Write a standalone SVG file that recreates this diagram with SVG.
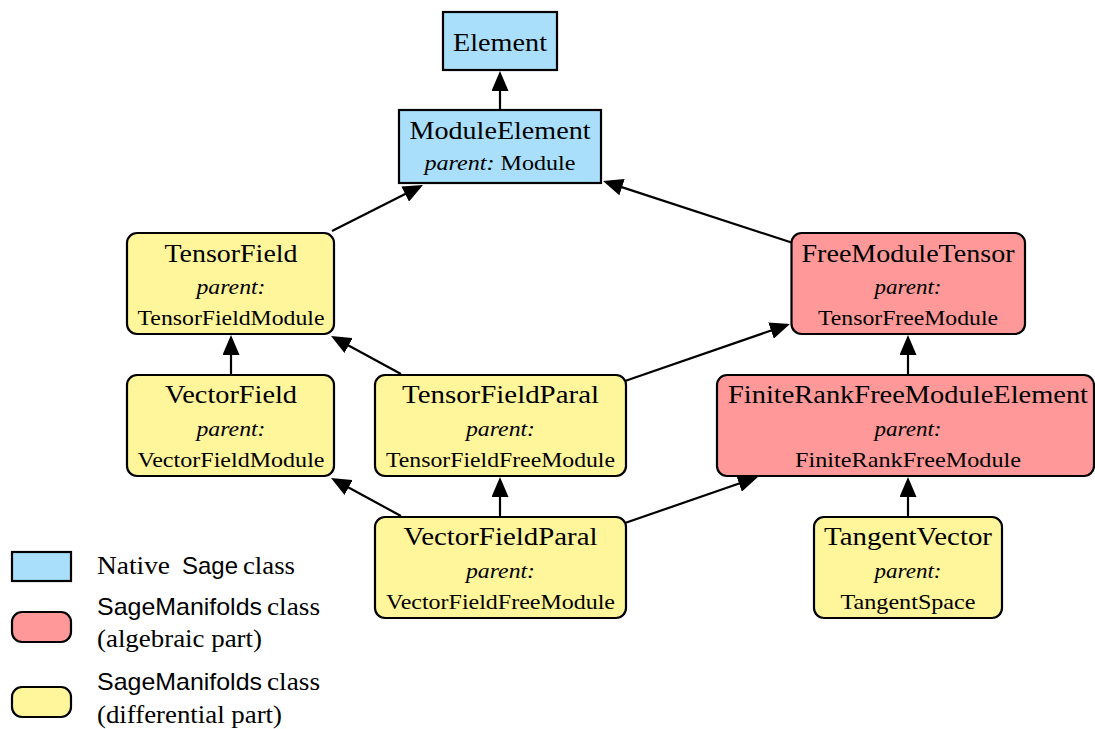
<svg xmlns="http://www.w3.org/2000/svg" width="1095" height="729" viewBox="0 0 1095 729">
<style>
.box{stroke:#000;stroke-width:2.2}
.blue{fill:#a9dffa}
.red{fill:#ff9898}
.yel{fill:#fff59a}
.t{font-family:"Liberation Serif","Times New Roman",serif;font-size:25px;fill:#000;text-anchor:middle}
.s{font-family:"Liberation Serif","Times New Roman",serif;font-size:21.5px;fill:#000;text-anchor:middle}
.i{font-style:italic}
.lg{font-family:"Liberation Serif","Times New Roman",serif;font-size:25px;fill:#000}
.ls{font-family:"Liberation Sans","DejaVu Sans",sans-serif;font-size:24px;fill:#000}
.e{stroke:#000;stroke-width:2.2;fill:none;marker-end:url(#ah)}
</style>
<defs>
<marker id="ah" markerUnits="userSpaceOnUse" viewBox="0 0 20 17" refX="10" refY="8.5" markerWidth="20" markerHeight="17" orient="auto">
<path d="M0,0 L20,8.5 L0,17 Z" fill="#000"/>
</marker>
</defs>
<rect width="1095" height="729" fill="#fff"/>

<g id="connectors">
<line class="e" x1="500" y1="110" x2="500" y2="81"/>
<line class="e" x1="332" y1="231" x2="414.1" y2="189.5"/>
<line class="e" x1="793" y1="243" x2="612.5" y2="184.1"/>
<line class="e" x1="231" y1="375" x2="231" y2="345"/>
<line class="e" x1="401" y1="374" x2="339.8" y2="340.8"/>
<line class="e" x1="625" y1="381" x2="780.5" y2="327.3"/>
<line class="e" x1="908" y1="375" x2="908" y2="345"/>
<line class="e" x1="401" y1="516" x2="339.8" y2="482.8"/>
<line class="e" x1="500" y1="517" x2="500" y2="487"/>
<line class="e" x1="625" y1="523" x2="748.5" y2="480.3"/>
<line class="e" x1="908" y1="517" x2="908" y2="487"/>
</g>

<g id="Element">
<rect class="box blue" x="443" y="12" width="114" height="58"/>
<text class="t" x="500" y="51" textLength="94" lengthAdjust="spacingAndGlyphs">Element</text>
</g>

<g id="ModuleElement">
<rect class="box blue" x="399" y="110" width="202" height="73"/>
<text class="t" x="500" y="139" textLength="181" lengthAdjust="spacingAndGlyphs">ModuleElement</text>
<text class="s" x="500" y="170" textLength="151" lengthAdjust="spacingAndGlyphs"><tspan class="i">parent:</tspan> Module</text>
</g>

<g id="TensorField">
<rect class="box yel" x="127" y="233" width="207" height="101" rx="10"/>
<text class="t" x="231" y="262" textLength="133" lengthAdjust="spacingAndGlyphs">TensorField</text>
<text class="s i" x="231" y="294" textLength="69" lengthAdjust="spacingAndGlyphs">parent:</text>
<text class="s" x="231" y="325" textLength="187" lengthAdjust="spacingAndGlyphs">TensorFieldModule</text>
</g>

<g id="FreeModuleTensor">
<rect class="box red" x="791.5" y="233" width="233.5" height="101" rx="10"/>
<text class="t" x="908" y="262" textLength="213" lengthAdjust="spacingAndGlyphs">FreeModuleTensor</text>
<text class="s i" x="908" y="294" textLength="67" lengthAdjust="spacingAndGlyphs">parent:</text>
<text class="s" x="908" y="325" textLength="180" lengthAdjust="spacingAndGlyphs">TensorFreeModule</text>
</g>

<g id="VectorField">
<rect class="box yel" x="127" y="375" width="207" height="101" rx="10"/>
<text class="t" x="231" y="403" textLength="132" lengthAdjust="spacingAndGlyphs">VectorField</text>
<text class="s i" x="231" y="436" textLength="69" lengthAdjust="spacingAndGlyphs">parent:</text>
<text class="s" x="231" y="467" textLength="187" lengthAdjust="spacingAndGlyphs">VectorFieldModule</text>
</g>

<g id="TensorFieldParal">
<rect class="box yel" x="375" y="375" width="251" height="101" rx="10"/>
<text class="t" x="500.5" y="403" textLength="197" lengthAdjust="spacingAndGlyphs">TensorFieldParal</text>
<text class="s i" x="500.5" y="436" textLength="69" lengthAdjust="spacingAndGlyphs">parent:</text>
<text class="s" x="500.5" y="467" textLength="229" lengthAdjust="spacingAndGlyphs">TensorFieldFreeModule</text>
</g>

<g id="FiniteRankFreeModuleElement">
<rect class="box red" x="717" y="375" width="377" height="101" rx="10"/>
<text class="t" x="908" y="403" textLength="360" lengthAdjust="spacingAndGlyphs">FiniteRankFreeModuleElement</text>
<text class="s i" x="908" y="436" textLength="67" lengthAdjust="spacingAndGlyphs">parent:</text>
<text class="s" x="908" y="467" textLength="226" lengthAdjust="spacingAndGlyphs">FiniteRankFreeModule</text>
</g>

<g id="VectorFieldParal">
<rect class="box yel" x="375" y="517" width="251" height="101" rx="10"/>
<text class="t" x="500.5" y="545" textLength="194" lengthAdjust="spacingAndGlyphs">VectorFieldParal</text>
<text class="s i" x="500.5" y="578" textLength="69" lengthAdjust="spacingAndGlyphs">parent:</text>
<text class="s" x="500.5" y="609" textLength="229" lengthAdjust="spacingAndGlyphs">VectorFieldFreeModule</text>
</g>

<g id="TangentVector">
<rect class="box yel" x="814" y="517" width="188" height="101" rx="10"/>
<text class="t" x="908" y="545" textLength="168" lengthAdjust="spacingAndGlyphs">TangentVector</text>
<text class="s i" x="908" y="578" textLength="67" lengthAdjust="spacingAndGlyphs">parent:</text>
<text class="s" x="908" y="609" textLength="135" lengthAdjust="spacingAndGlyphs">TangentSpace</text>
</g>

<g id="legend">
<rect class="box blue" x="12" y="552" width="59" height="29"/>
<rect class="box red" x="12" y="612" width="59" height="30" rx="10"/>
<rect class="box yel" x="12" y="687" width="59" height="30" rx="10"/>
<text class="lg" x="97" y="574" textLength="73" lengthAdjust="spacingAndGlyphs">Native</text>
<text class="ls" x="182" y="574" textLength="56" lengthAdjust="spacingAndGlyphs">Sage</text>
<text class="lg" x="243" y="574" textLength="52" lengthAdjust="spacingAndGlyphs">class</text>
<text class="ls" x="97" y="615" textLength="165" lengthAdjust="spacingAndGlyphs">SageManifolds</text>
<text class="lg" x="267" y="615" textLength="53" lengthAdjust="spacingAndGlyphs">class</text>
<text class="lg" x="97" y="647" textLength="165" lengthAdjust="spacingAndGlyphs">(algebraic part)</text>
<text class="ls" x="97" y="690" textLength="165" lengthAdjust="spacingAndGlyphs">SageManifolds</text>
<text class="lg" x="267" y="690" textLength="53" lengthAdjust="spacingAndGlyphs">class</text>
<text class="lg" x="97" y="723" textLength="185" lengthAdjust="spacingAndGlyphs">(differential part)</text>
</g>
</svg>
